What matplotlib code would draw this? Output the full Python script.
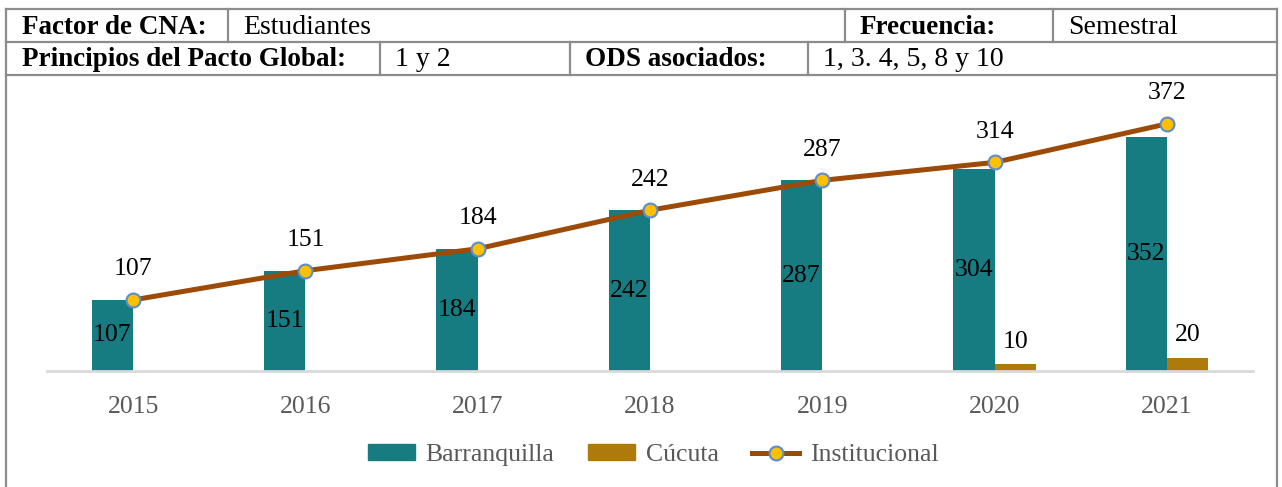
import matplotlib.pyplot as plt
from matplotlib.lines import Line2D
from matplotlib.patches import Patch
import numpy as np

plt.rcParams['font.family'] = ['Liberation Serif', 'DejaVu Serif']

# Data
years = ['2015', '2016', '2017', '2018', '2019', '2020', '2021']
barranquilla = [107, 151, 184, 242, 287, 304, 352]
cucuta = [0, 0, 0, 0, 0, 10, 20]
institucional = [107, 151, 184, 242, 287, 314, 372]

header_row1 = [('Factor de CNA:', True), ('Estudiantes', False),
               ('Frecuencia:', True), ('Semestral', False)]
header_row2 = [('Principios del Pacto Global:', True), ('1 y 2', False),
               ('ODS asociados:', True), ('1, 3. 4, 5, 8 y 10', False)]

W, H = 1282, 487
fig = plt.figure(figsize=(W / 100, H / 100), dpi=100)

def fx(x):
    return x / W

def fy(y):
    return 1 - y / H

# Header table borders
border = '#8c8c8c'
def hline(y, x0, x1):
    fig.add_artist(Line2D([fx(x0), fx(x1)], [fy(y), fy(y)], color=border, lw=1.6,
                          transform=fig.transFigure))

def vline(x, y0, y1):
    fig.add_artist(Line2D([fx(x), fx(x)], [fy(y0), fy(y1)], color=border, lw=1.6,
                          transform=fig.transFigure))

hline(9, 6, 1277)
hline(42, 6, 1277)
hline(75, 6, 1277)
vline(6, 9, 487)
vline(1277, 9, 487)
for x in [228, 845, 1053]:
    vline(x, 9, 42)
for x in [380, 570, 808]:
    vline(x, 42, 75)

for (txt, bold), x in zip(header_row1, [22, 243, 860, 1068]):
    fig.text(fx(x), fy(27), txt, fontsize=19.5 if bold else 20,
             fontweight='bold' if bold else 'normal',
             va='center', ha='left', color='black')
for (txt, bold), x in zip(header_row2, [22, 395, 585, 823]):
    fig.text(fx(x), fy(60), txt, fontsize=19.5 if bold else 20,
             fontweight='bold' if bold else 'normal',
             va='center', ha='left', color='black')

# Chart
ax = fig.add_axes([fx(47), fy(371), fx(1253) - fx(47), fy(90) - fy(371)])
x = np.arange(len(years))
w = 0.24
teal = '#167C82'
gold = '#AF7A0C'
brown = '#9C4A06'
fs = 18.5

ax.bar(x - w / 2, barranquilla, w, color=teal)
cuc = [v if v > 0 else np.nan for v in cucuta]
ax.bar(x + w / 2, cuc, w, color=gold)
ax.plot(x, institucional, color=brown, lw=3.6, marker='o', ms=10,
        markerfacecolor='#FFC000', markeredgecolor='#5B8BD0', markeredgewidth=1.5,
        zorder=3)

for xi, v in zip(x, barranquilla):
    ax.text(xi - w / 2, v / 2, str(v), ha='center', va='center', fontsize=fs, color='black')
for xi, v in zip(x, cucuta):
    if v > 0:
        ax.text(xi + w / 2, v + 34, str(v), ha='center', va='center', fontsize=fs, color='black')
for xi, v in zip(x, institucional):
    ax.text(xi, v + 46, str(v), ha='center', va='center', fontsize=fs, color='black')

ax.set_xlim(-0.5, len(years) - 0.5)
ax.set_ylim(0, 423)
ax.set_xticks(x)
ax.set_xticklabels(years, fontsize=fs, color='#595959')
ax.tick_params(axis='x', length=0, pad=18)
ax.set_yticks([])
for s in ['top', 'right', 'left']:
    ax.spines[s].set_visible(False)
ax.spines['bottom'].set_color('#D9D9D9')
ax.spines['bottom'].set_linewidth(2)

handles = [Patch(color=teal), Patch(color=gold),
           Line2D([], [], color=brown, lw=3.6, marker='o', ms=10,
                  markerfacecolor='#FFC000', markeredgecolor='#5B8BD0', markeredgewidth=1.5)]
fig.legend(handles, ['Barranquilla', 'Cúcuta', 'Institucional'],
           loc='center', bbox_to_anchor=(fx(653), fy(455)), ncol=3, frameon=False,
           fontsize=fs, labelcolor='#595959', handlelength=1.85, handleheight=0.6,
           handletextpad=0.4, columnspacing=1.3)

plt.savefig('out.png', dpi=100)
